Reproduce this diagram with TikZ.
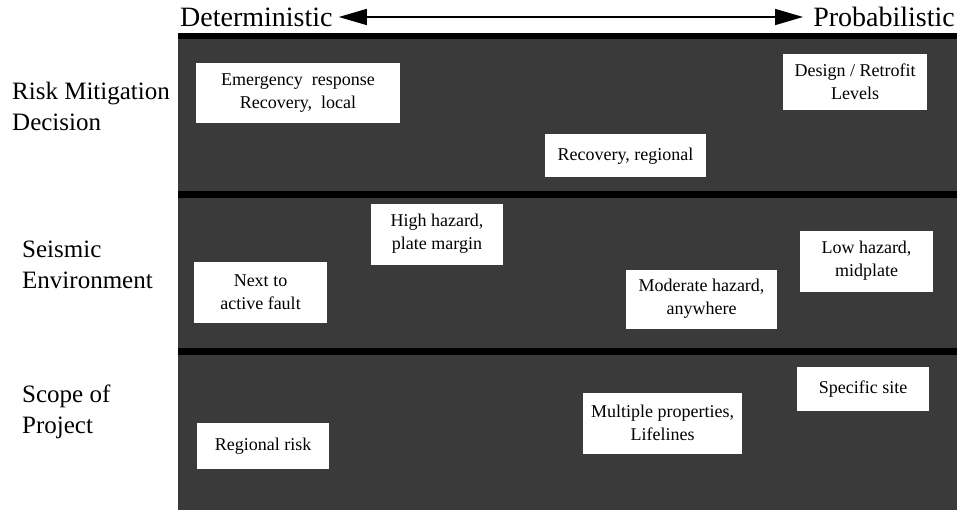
\documentclass[tikz,border=0pt]{standalone}
\usepackage{fontspec}
\setmainfont{Liberation Serif}
\usetikzlibrary{arrows.meta}
\definecolor{bandgray}{RGB}{58,58,58}
\tikzset{
  box/.style={fill=white, draw=none, inner sep=0pt, align=center,
    font=\fontsize{18}{23}\selectfont},
  rowlabel/.style={anchor=west, align=left, inner sep=0pt,
    font=\fontsize{25}{31}\selectfont},
  headlabel/.style={inner sep=0pt, font=\fontsize{28}{30}\selectfont},
  band/.style={fill=bandgray, draw=none},
  bar/.style={fill=black, draw=none}
}
\begin{document}
\begin{tikzpicture}[x=1pt,y=-1pt]
\useasboundingbox (0,0) rectangle (960,513);
% background bands
\fill[band] (178,33) rectangle (957,510);
\fill[bar] (178,33) rectangle (957,39);
\fill[bar] (178,191) rectangle (957,198);
\fill[bar] (178,348) rectangle (957,355);
% header
\node[headlabel, anchor=west] (det) at (180,17) {Deterministic};
\node[headlabel, anchor=east] (prob) at (955,17) {Probabilistic};
\draw[line width=1.5pt, {Triangle[length=28pt,width=16pt]}-{Triangle[length=28pt,width=16pt]}]
  ([xshift=6pt]det.east) -- ([xshift=-10pt]prob.west);
% row labels
\node[rowlabel] (rmd) at (12,106) {Risk Mitigation\\Decision};
\node[rowlabel] (se) at (22,265) {Seismic\\Environment};
\node[rowlabel] (sp) at (22,412) {Scope of\\Project};
% boxes
\node[box, minimum width=204pt, minimum height=60pt] (emerg) at (298,93) {Emergency\ \ response\\Recovery,\ \ local};
\node[box, minimum width=161pt, minimum height=43pt] (recreg) at (625.5,156) {Recovery, regional};
\node[box, minimum width=144pt, minimum height=56pt] (design) at (855,82) {Design / Retrofit\\Levels};
\node[box, minimum width=132pt, minimum height=61pt] (high) at (437,234) {High hazard,\\plate margin};
\node[box, minimum width=133pt, minimum height=61pt] (next) at (260.5,292) {Next to\\active fault};
\node[box, minimum width=133pt, minimum height=61pt] (low) at (866.5,261) {Low hazard,\\midplate};
\node[box, minimum width=151pt, minimum height=59pt] (moder) at (701.5,299) {Moderate hazard,\\anywhere};
\node[box, minimum width=132pt, minimum height=46pt] (regrisk) at (263,446) {Regional risk};
\node[box, minimum width=159pt, minimum height=61pt] (multi) at (662.5,423) {Multiple properties,\\Lifelines};
\node[box, minimum width=132pt, minimum height=44pt] (spec) at (863,389) {Specific site};
\end{tikzpicture}
\end{document}
